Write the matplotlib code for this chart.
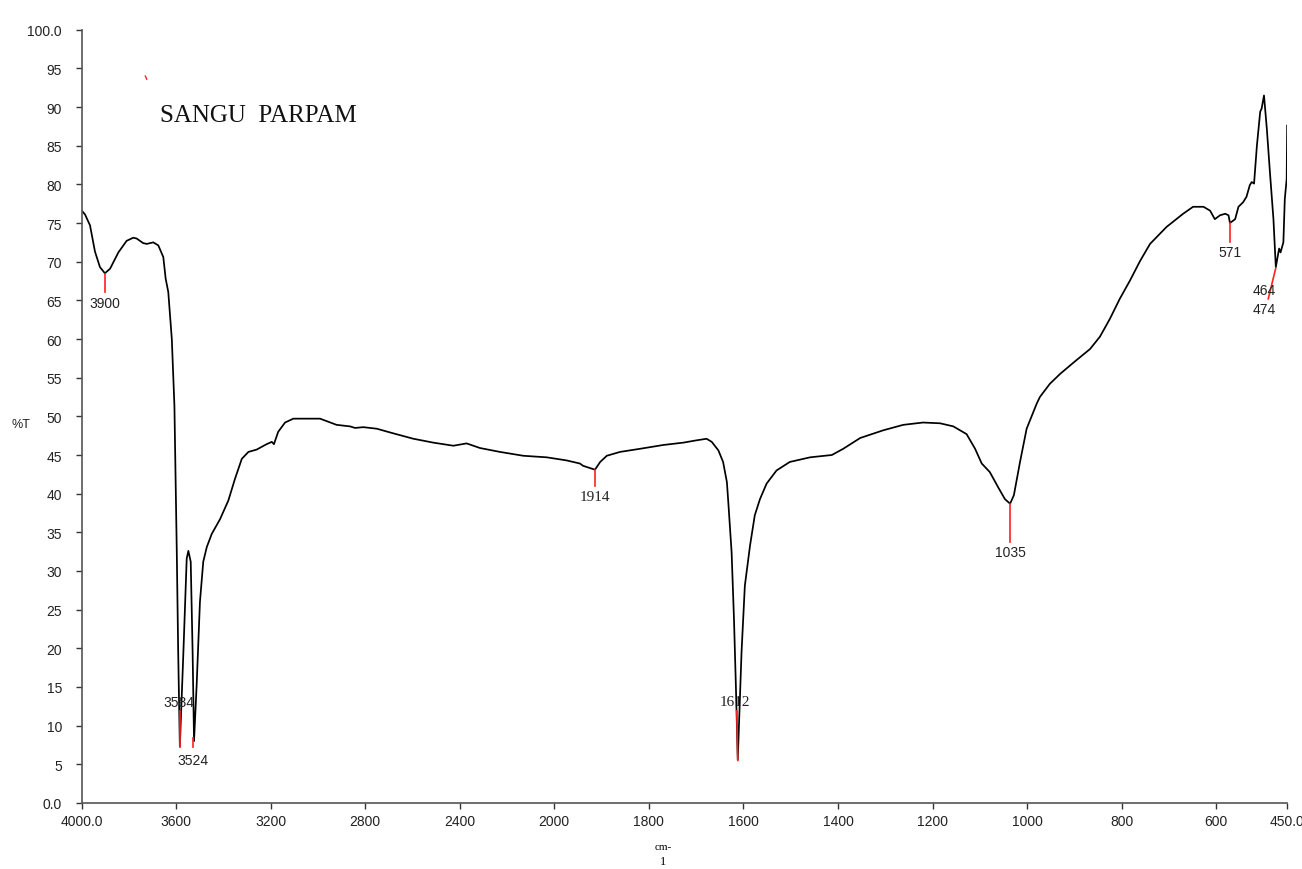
import numpy as np
import matplotlib.pyplot as plt
from matplotlib import font_manager

# IR spectrum
wavenumber = [3999, 3985, 3964, 3943, 3922, 3901, 3879, 3844, 3809, 3781, 3767, 3739,
              3724, 3696, 3675, 3654, 3644, 3633, 3618, 3607, 3597, 3591, 3584, 3569,
              3555, 3548, 3538, 3530, 3524, 3513, 3499, 3485, 3470, 3449, 3414, 3379,
              3351, 3322, 3294, 3259, 3217, 3195, 3186, 3168, 3139, 3104, 2991, 2921,
              2864, 2843, 2808, 2751, 2681, 2596, 2512, 2427, 2371, 2314, 2230, 2131,
              2032, 1974, 1946, 1939, 1914, 1903, 1889, 1861, 1819, 1769, 1727, 1699,
              1678, 1667, 1653, 1643, 1635, 1632, 1625, 1620, 1616, 1612, 1604, 1597,
              1586, 1576, 1565, 1551, 1530, 1502, 1459, 1413, 1389, 1353, 1304, 1262,
              1220, 1184, 1156, 1128, 1110, 1096, 1079, 1061, 1047, 1036, 1028, 1015,
              1001, 980, 973, 952, 930, 899, 867, 846, 825, 804, 783, 761, 740, 705,
              670, 649, 627, 613, 603, 592, 581, 574, 571, 560, 553, 543, 536, 529,
              525, 520, 514, 507, 504, 499, 493, 486, 479, 474, 467, 464, 458, 455,
              451, 450]
transmittance = [76.6, 76.1, 74.7, 71.3, 69.3, 68.5, 69.1, 71.2, 72.7, 73.1, 73.0, 72.4,
                 72.3, 72.5, 72.1, 70.6, 67.8, 66.1, 60.0, 51.4, 32.5, 19.5, 7.3, 19.5,
                 31.6, 32.6, 31.2, 19.5, 8.0, 15.2, 26.0, 31.2, 33.1, 34.8, 36.7, 39.1,
                 41.9, 44.5, 45.4, 45.7, 46.4, 46.7, 46.4, 48.0, 49.2, 49.7, 49.7, 48.9,
                 48.7, 48.5, 48.6, 48.4, 47.8, 47.1, 46.6, 46.2, 46.5, 45.9, 45.4, 44.9,
                 44.7, 44.3, 43.9, 43.6, 43.1, 44.1, 44.9, 45.4, 45.8, 46.3, 46.6, 46.9,
                 47.1, 46.7, 45.6, 44.1, 41.5, 38.9, 32.4, 23.8, 15.2, 5.6, 19.5, 28.1,
                 33.3, 37.2, 39.3, 41.3, 43.0, 44.1, 44.7, 45.0, 45.8, 47.2, 48.2, 48.9,
                 49.2, 49.1, 48.7, 47.7, 45.8, 43.9, 42.8, 40.8, 39.3, 38.7, 39.8, 44.1,
                 48.4, 51.6, 52.5, 54.2, 55.5, 57.1, 58.7, 60.3, 62.6, 65.2, 67.5, 70.1,
                 72.3, 74.5, 76.2, 77.1, 77.1, 76.6, 75.5, 76.0, 76.2, 76.0, 75.0, 75.5,
                 77.1, 77.7, 78.4, 79.9, 80.3, 80.1, 85.0, 89.4, 89.8, 91.5, 87.2, 81.2,
                 75.5, 69.3, 71.7, 71.2, 72.5, 78.1, 80.7, 87.6]

xticks = [4000, 3600, 3200, 2800, 2400, 2000, 1800, 1600, 1400, 1200, 1000, 800, 600, 450]
xticklabels = ['4000.0', '3600', '3200', '2800', '2400', '2000', '1800', '1600',
               '1400', '1200', '1000', '800', '600', '450.0']
yticks = [0, 5, 10, 15, 20, 25, 30, 35, 40, 45, 50, 55, 60, 65, 70, 75, 80, 85, 90, 95, 100]
yticklabels = ['0.0'] + [str(v) for v in yticks[1:-1]] + ['100.0']

peak_labels = ['3900', '3584', '3524', '1914', '1612', '1035', '571', '464', '474']


def fwd(x):
    x = np.asarray(x, dtype=float)
    return np.where(x > 2000, 2000 + (x - 2000) / 2.0, x)


def inv(x):
    x = np.asarray(x, dtype=float)
    return np.where(x > 2000, 2000 + (x - 2000) * 2.0, x)


names = {f.name for f in font_manager.fontManager.ttflist}
tick_font = 'Liberation Sans Narrow' if 'Liberation Sans Narrow' in names else 'Liberation Sans'

fig = plt.figure(figsize=(13.02, 8.70), dpi=100)
ax = fig.add_axes([0.0626, 0.0759, 0.926, 0.8888])
ax.set_xscale('function', functions=(fwd, inv))
ax.plot(wavenumber, transmittance, color='black', lw=1.25)
ax.set_xlim(4000, 450)
ax.set_ylim(0, 100)

ax.spines['top'].set_visible(False)
ax.spines['right'].set_visible(False)
for s in ['left', 'bottom']:
    ax.spines[s].set_color('#555555')
    ax.spines[s].set_linewidth(1.2)

ax.set_xticks(xticks)
ax.set_xticklabels(xticklabels)
ax.set_yticks(yticks)
ax.set_yticklabels(yticklabels)
ax.xaxis.set_minor_locator(plt.NullLocator())
ax.tick_params(axis='both', length=4, width=1, color='#333333',
               labelsize=10, labelcolor='#222222')
ax.tick_params(axis='x', pad=4)
ax.tick_params(axis='y', pad=10)
for lab in ax.get_xticklabels() + ax.get_yticklabels():
    lab.set_family(tick_font)

# peak markers
red = '#ff2020'
marks = [
    # label, line top (x, y), line bottom (x, y), text (x, y), family, size
    ('3900', 3900, 68.4, 3900, 66.1, 3900, 64.6, tick_font, 10),
    ('3584', 3583, 11.9, 3583, 7.3, 3586, 13.1, tick_font, 10),
    ('3524', 3528, 8.4, 3528, 7.2, 3528, 5.6, tick_font, 10),
    ('1914', 1914, 43.1, 1914, 41.0, 1914, 39.6, 'Liberation Serif', 11),
    ('1612', 1614, 11.9, 1612, 5.5, 1618, 13.1, 'Liberation Serif', 11),
    ('1035', 1036, 38.7, 1036, 33.8, 1036, 32.4, tick_font, 10),
    ('571', 571, 75.0, 571, 72.6, 571, 71.2, tick_font, 10),
    ('464', 474, 69.2, 490, 65.2, 498, 66.3, tick_font, 10),
    ('474', None, None, None, None, 498, 63.9, tick_font, 10),
]
for lab, x0, y0, x1, y1, tx, ty, fam, fs in marks:
    if x0 is not None:
        ax.plot([x0, x1], [y0, y1], color=red, lw=1.2)
    ax.text(tx, ty, lab, ha='center', va='center', fontsize=fs,
            family=fam, color='#222222')

# stray red tick near the title
ax.plot([3730, 3724], [94.0, 93.6], color=red, lw=1)

fig.text(160 / 1302, 1 - 116 / 870, 'SANGU  PARPAM',
         family='Liberation Serif', fontsize=18, color='#111111', va='center')

fig.text(12 / 1302, 1 - 425 / 870, '%T', family=tick_font, fontsize=9,
         color='#222222', va='center')
fig.text(663 / 1302, 1 - 848 / 870, 'cm-', family='Liberation Serif', fontsize=8,
         ha='center', va='center')
fig.text(663 / 1302, 1 - 862 / 870, '1', family='Liberation Serif', fontsize=9,
         ha='center', va='center')

fig.savefig('out.png', dpi=100)
